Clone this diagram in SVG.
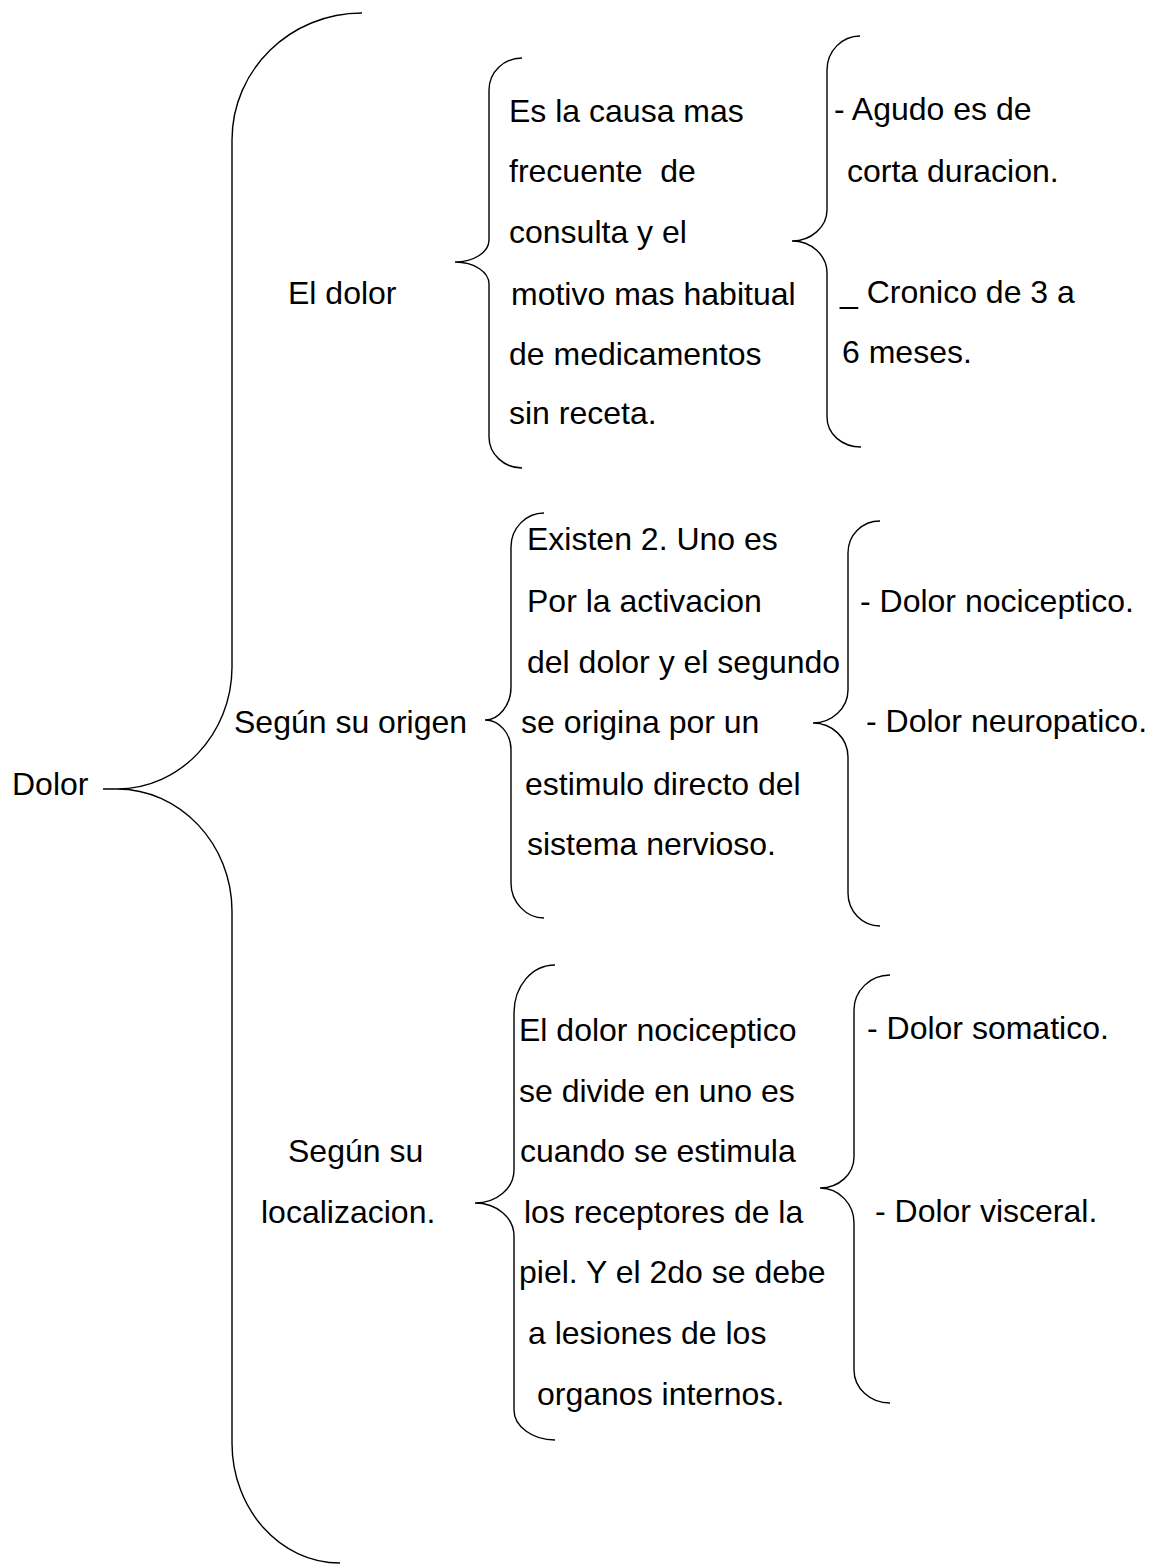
<svg xmlns="http://www.w3.org/2000/svg" width="1150" height="1564" viewBox="0 0 1150 1564">
<style>
text{font-family:"Liberation Sans",Arial,sans-serif;font-size:32px;fill:#000;white-space:pre}
.br{fill:none;stroke:#000;stroke-width:1.4}
</style>
<rect width="1150" height="1564" fill="#fff"/>
<g id="connectors">
<path class="br" d="M362,13 C290,13 232,70 232,140 L232,667 C232,734 180,789 117,789 L103,789 M103,789 L117,789 C180,789 232,844 232,911 L232,1443 C232,1509 280,1563 340,1563"/>
<path class="br" d="M522,58 C504,58 489,72 489,90 L489,240 C489,252 474,262 455,262 C474,262 489,272 489,284 L489,437 C489,454 504,468 522,468"/>
<path class="br" d="M860,36 C842,36 827,51 827,70 L827,210 C827,227 811,241 792,241 C811,241 827,255 827,273 L827,417 C827,434 842,447 861,447"/>
<path class="br" d="M544,513 C526,513 511,528 511,547 L511,687 C511,705 499,720 485,720 C499,720 511,733 511,750 L511,883 C511,902 526,918 544,918"/>
<path class="br" d="M880,521 C862,521 848,535 848,553 L848,690 C848,708 832,723 813,723 C832,723 848,738 848,757 L848,893 C848,911 862,926 880,926"/>
<path class="br" d="M555,965 C532,965 514,986 514,1013 L514,1170 C514,1188 497,1203 475,1203 C497,1203 514,1218 514,1236 L514,1410 C514,1426 532,1440 555,1440"/>
<path class="br" d="M890,975 C870,975 854,991 854,1010 L854,1157 C854,1174 839,1188 820,1188 C839,1188 854,1204 854,1223 L854,1370 C854,1388 870,1403 890,1403"/>
</g>
<g id="root"><text x="12" y="795">Dolor</text></g>
<g id="el-dolor"><text x="288" y="304">El dolor</text></g>
<g id="el-dolor-desc">
<text x="509" y="122">Es la causa mas</text>
<text x="509" y="182">frecuente  de</text>
<text x="509" y="243">consulta y el</text>
<text x="511" y="305">motivo mas habitual</text>
<text x="509" y="365">de medicamentos</text>
<text x="509" y="424">sin receta.</text>
</g>
<g id="el-dolor-tipos">
<text x="834" y="120">- Agudo es de</text>
<text x="847" y="182">corta duracion.</text>
<text x="840" y="303">_ Cronico de 3 a</text>
<text x="842" y="363">6 meses.</text>
</g>
<g id="origen"><text x="234" y="733">Según su origen</text></g>
<g id="origen-desc">
<text x="527" y="550">Existen 2. Uno es</text>
<text x="527" y="612">Por la activacion</text>
<text x="527" y="673">del dolor y el segundo</text>
<text x="521" y="733">se origina por un</text>
<text x="525" y="795">estimulo directo del</text>
<text x="527" y="855">sistema nervioso.</text>
</g>
<g id="origen-tipos">
<text x="860" y="612">- Dolor nociceptico.</text>
<text x="866" y="732">- Dolor neuropatico.</text>
</g>
<g id="localizacion">
<text x="288" y="1162">Según su</text>
<text x="261" y="1223">localizacion.</text>
</g>
<g id="localizacion-desc">
<text x="519" y="1041">El dolor nociceptico</text>
<text x="519" y="1102">se divide en uno es</text>
<text x="520" y="1162">cuando se estimula</text>
<text x="524" y="1223">los receptores de la</text>
<text x="519" y="1283">piel. Y el 2do se debe</text>
<text x="528" y="1344">a lesiones de los</text>
<text x="537" y="1405">organos internos.</text>
</g>
<g id="localizacion-tipos">
<text x="867" y="1039">- Dolor somatico.</text>
<text x="875" y="1222">- Dolor visceral.</text>
</g>
</svg>
